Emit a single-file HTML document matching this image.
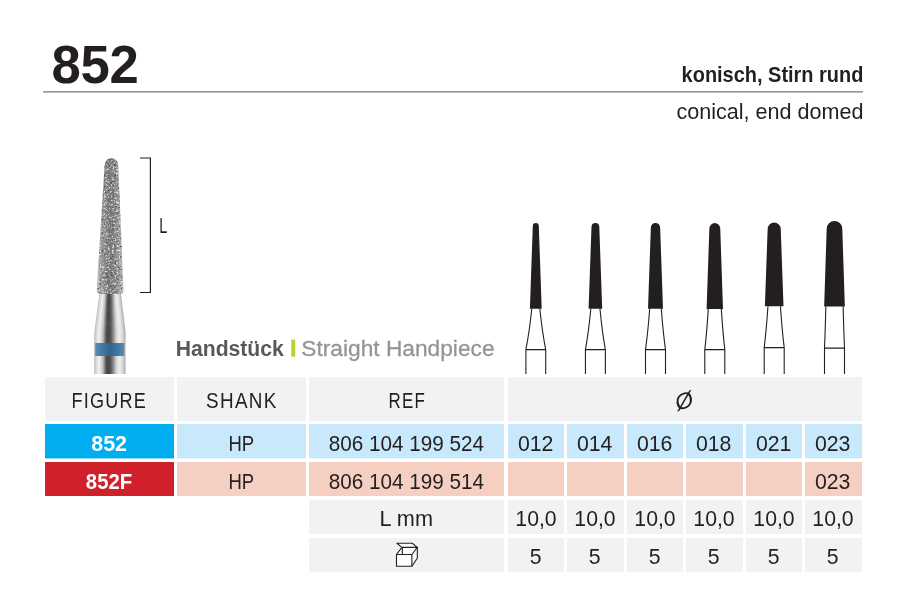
<!DOCTYPE html>
<html lang="de">
<head>
<meta charset="utf-8">
<title>852 konisch, Stirn rund</title>
<style>
html,body{margin:0;padding:0;background:#fff}
body{width:898px;height:612px;position:relative;overflow:hidden;font-family:"Liberation Sans",sans-serif;color:#231f20}
.abs{position:absolute;white-space:nowrap;line-height:1}
.c{position:absolute;display:flex;align-items:center;justify-content:center;box-sizing:border-box}
.c span{display:block;white-space:nowrap;line-height:1;position:relative}
.g{background:#f1f2f4}
.b1{background:#00adee;box-shadow:0 1px 0 rgba(0,173,238,.45)}
.b2{background:#c7e9fb;box-shadow:0 1px 0 rgba(199,233,251,.45)}
.r1c{background:#d0202a}
.r2c{background:#f5cfc1}
.c span.wb,.c span.wf{color:#fff;font-weight:bold}
.de,.hs{font-weight:bold}
.title{font-weight:bold}
.hs{color:#58595b}
.sh{color:#939598;-webkit-text-stroke:.3px #939598}
.L{color:#231f20}
.title{left:0;top:0;font-size:53px;letter-spacing:-0.3px;transform:translate(51.5px,38.2px) scale(0.9939,1);transform-origin:left top}
.de{right:0;top:0;font-size:22.5px;letter-spacing:0px;transform:translate(-34.6px,63.7px) scale(0.8869,1);transform-origin:right top}
.en{right:0;top:0;font-size:22.5px;letter-spacing:0px;transform:translate(-34.6px,100.9px) scale(0.9590,1);transform-origin:right top}
.hs{left:0;top:0;font-size:22.6px;letter-spacing:0px;transform:translate(175.7px,338.2px) scale(0.9358,1);transform-origin:left top}
.sh{left:0;top:0;font-size:22.6px;letter-spacing:0px;transform:translate(301.3px,338.0px) scale(1.0055,1);transform-origin:left top}
.L{left:0;top:0;font-size:21.6px;letter-spacing:0px;transform:translate(159.3px,214.7px) scale(0.6700,1);transform-origin:left top}
.c span.fig{font-size:21.6px;letter-spacing:1.5px;margin-right:-1.5px;transform:translate(-1.0px,2.1px) scaleX(0.8364)}
.c span.shk{font-size:21.6px;letter-spacing:1.5px;margin-right:-1.5px;transform:translate(-0.1px,2.1px) scaleX(0.8746)}
.c span.ref{font-size:21.6px;letter-spacing:1.5px;margin-right:-1.5px;transform:translate(-0.6px,1.8px) scaleX(0.7845)}
.c span.dia{font-size:23.8px;letter-spacing:0px;margin-right:0px;transform:translate(0.0px,2.0px) scaleX(.94) skewX(-11deg) rotate(-17deg)}
.c span.wb{font-size:21.6px;letter-spacing:0px;margin-right:0px;transform:translate(-0.9px,3.15px) scaleX(0.9936)}
.c span.wf{font-size:21.6px;letter-spacing:0px;margin-right:0px;transform:translate(-0.57px,3.15px) scaleX(0.9424)}
.c span.hp{font-size:21.6px;letter-spacing:0px;margin-right:0px;transform:translate(0.29px,2.95px) scaleX(0.8572)}
.c span.rf{font-size:21.6px;letter-spacing:0px;margin-right:0px;transform:translate(-0.64px,3.15px) scaleX(0.9579)}
.c span.sz{font-size:21.6px;letter-spacing:0px;margin-right:0px;transform:translate(-0.35px,3.15px) scaleX(0.9857)}
.c span.lm{font-size:21.6px;letter-spacing:0px;margin-right:0px;transform:translate(-0.3px,2.2px) scaleX(1.0050)}
.c span.ln{font-size:21.6px;letter-spacing:0px;margin-right:0px;transform:translate(0.0px,2.3px) scaleX(0.9829)}
.c span.pk{font-size:21.6px;letter-spacing:0px;margin-right:0px;transform:translate(-0.45px,2.0px) scaleX(0.9847)}
svg{position:absolute;left:0;top:0}
</style>
</head>
<body>
<div class="abs title">852</div>
<div class="abs de">konisch, Stirn rund</div>
<div class="abs en">conical, end domed</div>

<div class="abs L">L</div>
<div class="abs hs">Handst&uuml;ck</div>
<div class="abs sh">Straight Handpiece</div>

<div class="c g" style="left:45.0px;top:377.0px;width:129.1px;height:44.0px"><span class="hd fig">FIGURE</span></div>
<div class="c g" style="left:177.1px;top:377.0px;width:128.8px;height:44.0px"><span class="hd shk">SHANK</span></div>
<div class="c g" style="left:309.2px;top:377.0px;width:195.2px;height:44.0px"><span class="hd ref">REF</span></div>
<div class="c g" style="left:507.8px;top:377.0px;width:353.8px;height:44.0px"><span class="hd dia">&Oslash;</span></div>
<div class="c b1" style="left:45.0px;top:424.0px;width:129.1px;height:34.0px"><span class="wb wb1">852</span></div>
<div class="c b2" style="left:177.1px;top:424.0px;width:128.8px;height:34.0px"><span class="n hp">HP</span></div>
<div class="c b2" style="left:309.2px;top:424.0px;width:195.2px;height:34.0px"><span class="n rf">806 104 199 524</span></div>
<div class="c b2" style="left:507.8px;top:424.0px;width:56.3px;height:34.0px"><span class="n sz">012</span></div>
<div class="c b2" style="left:567.3px;top:424.0px;width:56.3px;height:34.0px"><span class="n sz">014</span></div>
<div class="c b2" style="left:626.8px;top:424.0px;width:56.3px;height:34.0px"><span class="n sz">016</span></div>
<div class="c b2" style="left:686.3px;top:424.0px;width:56.3px;height:34.0px"><span class="n sz">018</span></div>
<div class="c b2" style="left:745.8px;top:424.0px;width:56.3px;height:34.0px"><span class="n sz">021</span></div>
<div class="c b2" style="left:805.3px;top:424.0px;width:56.3px;height:34.0px"><span class="n sz">023</span></div>
<div class="c r1c" style="left:45.0px;top:462.0px;width:129.1px;height:34.0px"><span class="wf">852F</span></div>
<div class="c r2c" style="left:177.1px;top:462.0px;width:128.8px;height:34.0px"><span class="n hp">HP</span></div>
<div class="c r2c" style="left:309.2px;top:462.0px;width:195.2px;height:34.0px"><span class="n rf">806 104 199 514</span></div>
<div class="c r2c" style="left:507.8px;top:462.0px;width:56.3px;height:34.0px"></div>
<div class="c r2c" style="left:567.3px;top:462.0px;width:56.3px;height:34.0px"></div>
<div class="c r2c" style="left:626.8px;top:462.0px;width:56.3px;height:34.0px"></div>
<div class="c r2c" style="left:686.3px;top:462.0px;width:56.3px;height:34.0px"></div>
<div class="c r2c" style="left:745.8px;top:462.0px;width:56.3px;height:34.0px"></div>
<div class="c r2c" style="left:805.3px;top:462.0px;width:56.3px;height:34.0px"><span class="n sz">023</span></div>
<div class="c g" style="left:309.2px;top:500.0px;width:195.2px;height:34.0px"><span class="n lm">L mm</span></div>
<div class="c g" style="left:507.8px;top:500.0px;width:56.3px;height:34.0px"><span class="n ln">10,0</span></div>
<div class="c g" style="left:567.3px;top:500.0px;width:56.3px;height:34.0px"><span class="n ln">10,0</span></div>
<div class="c g" style="left:626.8px;top:500.0px;width:56.3px;height:34.0px"><span class="n ln">10,0</span></div>
<div class="c g" style="left:686.3px;top:500.0px;width:56.3px;height:34.0px"><span class="n ln">10,0</span></div>
<div class="c g" style="left:745.8px;top:500.0px;width:56.3px;height:34.0px"><span class="n ln">10,0</span></div>
<div class="c g" style="left:805.3px;top:500.0px;width:56.3px;height:34.0px"><span class="n ln">10,0</span></div>
<div class="c g" style="left:309.2px;top:538.0px;width:195.2px;height:33.6px"></div>
<div class="c g" style="left:507.8px;top:538.0px;width:56.3px;height:33.6px"><span class="n pk">5</span></div>
<div class="c g" style="left:567.3px;top:538.0px;width:56.3px;height:33.6px"><span class="n pk">5</span></div>
<div class="c g" style="left:626.8px;top:538.0px;width:56.3px;height:33.6px"><span class="n pk">5</span></div>
<div class="c g" style="left:686.3px;top:538.0px;width:56.3px;height:33.6px"><span class="n pk">5</span></div>
<div class="c g" style="left:745.8px;top:538.0px;width:56.3px;height:33.6px"><span class="n pk">5</span></div>
<div class="c g" style="left:805.3px;top:538.0px;width:56.3px;height:33.6px"><span class="n pk">5</span></div>

<svg width="898" height="612" viewBox="0 0 898 612">
<defs>
<linearGradient id="steel" x1="0" x2="1" y1="0" y2="0">
<stop offset="0" stop-color="#b8b8b8"/>
<stop offset=".06" stop-color="#d8d8d8"/>
<stop offset=".16" stop-color="#f1f1f1"/>
<stop offset=".27" stop-color="#c4c4c4"/>
<stop offset=".34" stop-color="#7c7c7c"/>
<stop offset=".40" stop-color="#484848"/>
<stop offset=".50" stop-color="#4c4c4c"/>
<stop offset=".57" stop-color="#707070"/>
<stop offset=".64" stop-color="#a4a4a4"/>
<stop offset=".72" stop-color="#dcdcdc"/>
<stop offset=".82" stop-color="#eeeeee"/>
<stop offset=".92" stop-color="#d2d2d2"/>
<stop offset="1" stop-color="#a8a8a8"/>
</linearGradient>
<linearGradient id="blue" x1="0" x2="1" y1="0" y2="0">
<stop offset="0" stop-color="#5f8cb0"/>
<stop offset=".25" stop-color="#41779f"/>
<stop offset=".5" stop-color="#2f648f"/>
<stop offset=".75" stop-color="#3f769f"/>
<stop offset="1" stop-color="#5c8bb1"/>
</linearGradient>
<linearGradient id="dia" x1="0" x2="1" y1="0" y2="0">
<stop offset="0" stop-color="#c2c2c2"/>
<stop offset=".18" stop-color="#9a9a9a"/>
<stop offset=".45" stop-color="#7a7a7a"/>
<stop offset=".62" stop-color="#7e7e7e"/>
<stop offset=".85" stop-color="#a0a0a0"/>
<stop offset="1" stop-color="#c6c6c6"/>
</linearGradient>
<filter id="grit" x="-5%" y="-2%" width="110%" height="104%" color-interpolation-filters="sRGB">
<feTurbulence type="fractalNoise" baseFrequency="0.48" numOctaves="3" seed="11" result="n"/>
<feColorMatrix in="n" type="matrix" values="0 0 0 0 0  0 0 0 0 0  0 0 0 0 0  4.5 0 0 0 -2.4" result="a"/>
<feFlood flood-color="#dedede"/>
<feComposite operator="in" in2="a" result="w"/>
<feComposite operator="in" in="w" in2="SourceAlpha" result="wc"/>
<feColorMatrix in="n" type="matrix" values="0 0 0 0 0  0 0 0 0 0  0 0 0 0 0  0 -4.5 0 0 1.95" result="b"/>
<feFlood flood-color="#4c4c4c"/>
<feComposite operator="in" in2="b" result="d"/>
<feComposite operator="in" in="d" in2="SourceAlpha" result="dc"/>
<feMerge result="m"><feMergeNode in="SourceGraphic"/><feMergeNode in="dc"/><feMergeNode in="wc"/></feMerge>
<feGaussianBlur in="m" stdDeviation="0.5"/>
</filter>
</defs>
<!-- photo bur -->
<g>
<rect x="99.45" y="293.00" width="21.40" height="2.76" fill="url(#steel)"/>
<rect x="99.14" y="295.16" width="21.98" height="2.76" fill="url(#steel)"/>
<rect x="98.84" y="297.32" width="22.57" height="2.76" fill="url(#steel)"/>
<rect x="98.53" y="299.47" width="23.15" height="2.76" fill="url(#steel)"/>
<rect x="98.23" y="301.63" width="23.73" height="2.76" fill="url(#steel)"/>
<rect x="97.93" y="303.79" width="24.31" height="2.76" fill="url(#steel)"/>
<rect x="97.64" y="305.95" width="24.88" height="2.76" fill="url(#steel)"/>
<rect x="97.34" y="308.11" width="25.45" height="2.76" fill="url(#steel)"/>
<rect x="97.05" y="310.26" width="26.02" height="2.76" fill="url(#steel)"/>
<rect x="96.75" y="312.42" width="26.58" height="2.76" fill="url(#steel)"/>
<rect x="96.47" y="314.58" width="27.14" height="2.76" fill="url(#steel)"/>
<rect x="96.18" y="316.74" width="27.69" height="2.76" fill="url(#steel)"/>
<rect x="95.90" y="318.89" width="28.23" height="2.76" fill="url(#steel)"/>
<rect x="95.62" y="321.05" width="28.77" height="2.76" fill="url(#steel)"/>
<rect x="95.34" y="323.21" width="29.30" height="2.76" fill="url(#steel)"/>
<rect x="95.07" y="325.37" width="29.83" height="2.76" fill="url(#steel)"/>
<rect x="94.80" y="327.53" width="30.34" height="2.76" fill="url(#steel)"/>
<rect x="94.55" y="329.68" width="30.83" height="2.76" fill="url(#steel)"/>
<rect x="94.31" y="331.84" width="31.30" height="2.76" fill="url(#steel)"/>
<rect x="94.2" y="334" width="31.3" height="40" fill="url(#steel)"/>
<rect x="95.2" y="343" width="29" height="13" fill="url(#blue)"/>
<path d="M96.7,290.5 L104.6,165 A6.8,6.8 0 0 1 118.2,165 L123.5,290.5 Q123.5,294 120.4,294 L99.8,294 Q96.7,294 96.7,290.5 Z" fill="url(#dia)" filter="url(#grit)"/>
</g>
<!-- green divider -->
<rect x="291.3" y="339.6" width="3.9" height="17.1" fill="#b8d432"/>
<!-- rule -->
<path d="M43.2,91.85 H862.9" stroke="#767475" stroke-width="1.35" fill="none"/>
<!-- bracket -->
<path d="M139.9,158 H150.4 V292.5 H139.9" fill="none" stroke="#231f20" stroke-width="1.2"/>
<!-- silhouettes -->
<path d="M529.90,308.7 L532.80,226.00 A3.00,3.00 0 0 1 538.80,226.00 L541.70,308.7 Z" fill="#231f20"/>
<path d="M531.80,308.7 Q529.32,332.1 525.90,349.6 V374 M539.80,308.7 Q542.28,332.1 545.70,349.6 V374 M525.90,349.6 H545.70" fill="none" stroke="#231f20" stroke-width="1.1"/>
<path d="M588.60,308.7 L591.50,226.90 A3.90,3.90 0 0 1 599.30,226.90 L602.20,308.7 Z" fill="#231f20"/>
<path d="M590.85,308.7 Q588.58,332.1 585.45,349.6 V374 M599.95,308.7 Q602.22,332.1 605.35,349.6 V374 M585.45,349.6 H605.35" fill="none" stroke="#231f20" stroke-width="1.1"/>
<path d="M648.00,308.7 L650.85,227.65 A4.65,4.65 0 0 1 660.15,227.65 L663.00,308.7 Z" fill="#231f20"/>
<path d="M649.70,308.7 Q647.94,332.1 645.50,349.6 V374 M661.30,308.7 Q663.06,332.1 665.50,349.6 V374 M645.50,349.6 H665.50" fill="none" stroke="#231f20" stroke-width="1.1"/>
<path d="M706.60,308.9 L709.35,228.55 A5.45,5.45 0 0 1 720.25,228.55 L723.00,308.9 Z" fill="#231f20"/>
<path d="M708.30,308.9 Q706.83,332.2 704.80,349.6 V374 M721.30,308.9 Q722.77,332.2 724.80,349.6 V374 M704.80,349.6 H724.80" fill="none" stroke="#231f20" stroke-width="1.1"/>
<path d="M764.90,306.2 L767.65,229.15 A6.55,6.55 0 0 1 780.75,229.15 L783.50,306.2 Z" fill="#231f20"/>
<path d="M767.95,306.2 Q766.38,329.9 764.20,347.6 V374 M780.45,306.2 Q782.03,329.9 784.20,347.6 V374 M764.20,347.6 H784.20" fill="none" stroke="#231f20" stroke-width="1.1"/>
<path d="M824.15,306.4 L826.70,228.70 A7.80,7.80 0 0 1 842.30,228.70 L844.85,306.4 Z" fill="#231f20"/>
<path d="M825.85,306.4 Q825.28,330.2 824.50,348.1 V374 M843.15,306.4 Q843.72,330.2 844.50,348.1 V374 M824.50,348.1 H844.50" fill="none" stroke="#231f20" stroke-width="1.1"/>
<!-- box icon -->
<g fill="#fff" stroke="#231f20" stroke-width="1.1" stroke-linejoin="round">
<path d="M396.5,554.5 L401.9,547.4 L417.3,547.4 L417.3,558.3 L411.9,566.3 L396.5,566.3 Z"/>
<path d="M401.9,547.4 L396.9,543.3 L412.2,543.3 L417.3,547.4 Z"/>
<path d="M396.5,554.5 H411.9 V566.3 M411.9,554.5 L417.3,547.4 M402.3,547.4 V554.5" fill="none"/>
</g>
</svg>
</body>
</html>
